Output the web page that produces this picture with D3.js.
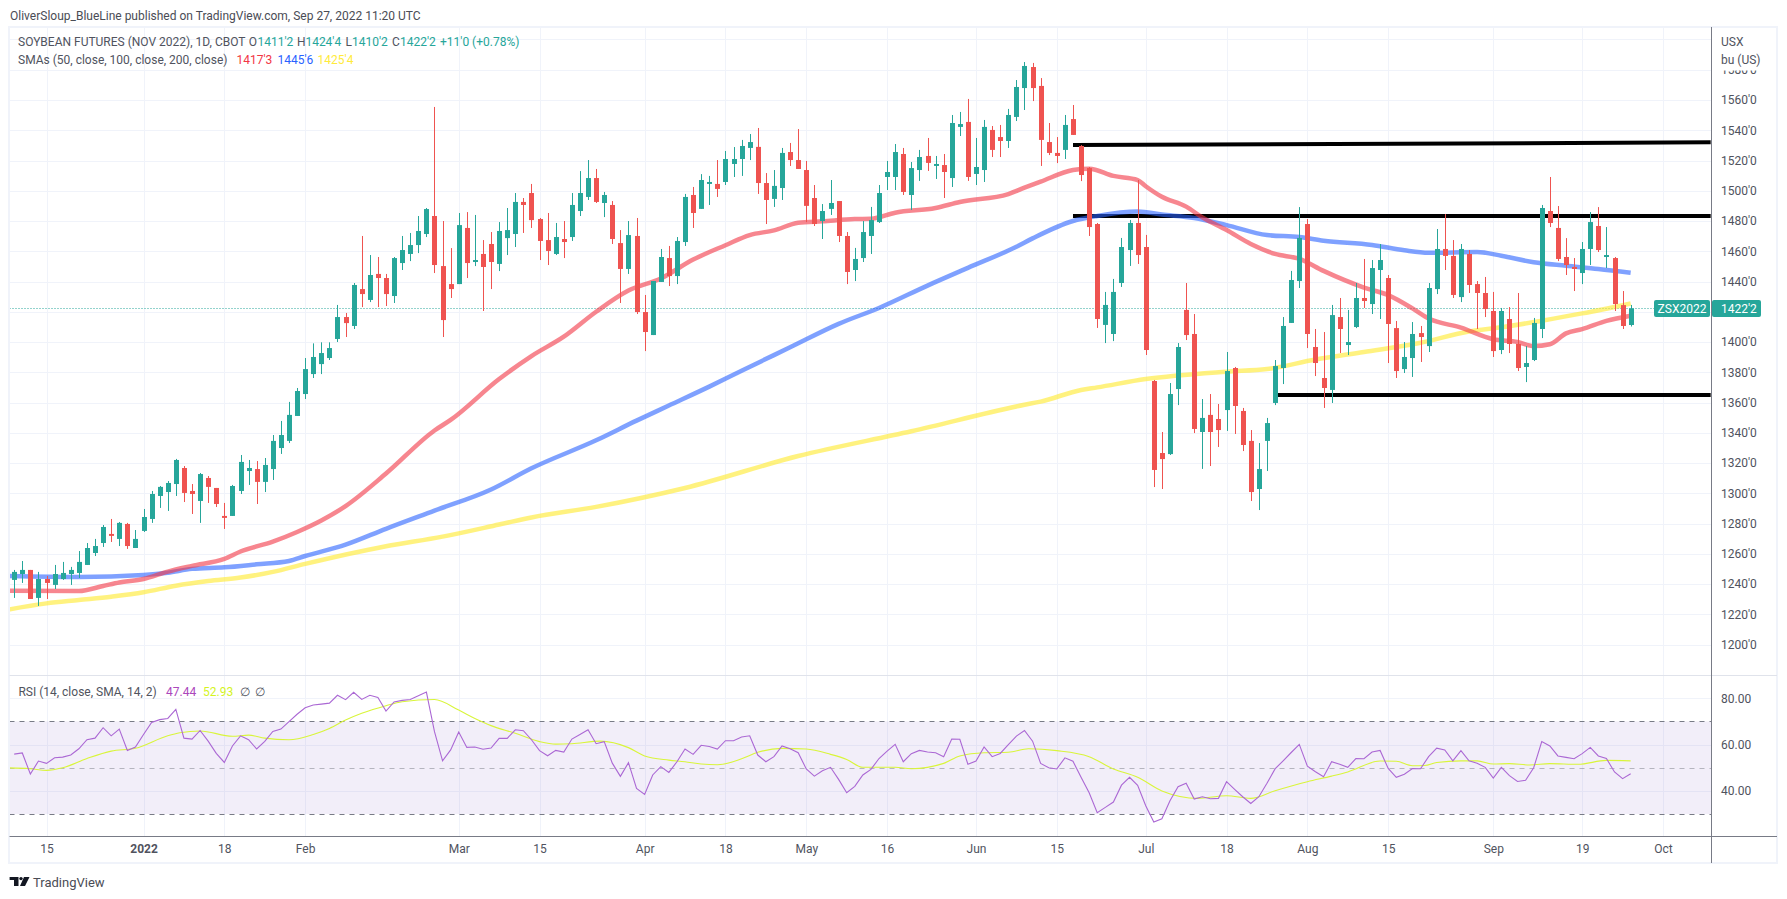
<!DOCTYPE html>
<html>
<head>
<meta charset="utf-8">
<script src="https://cdn.jsdelivr.net/npm/d3@7/dist/d3.min.js"></script>
<style>
  body { margin: 0; background: #fff; }
  svg { display: block; }
  text { font-family: Roboto, sans-serif; font-size: 12px; fill: #50535e; }
</style>
</head>
<body>
<svg id="chart" width="1787" height="899"></svg>
<script>

// daily OHLC, first bar is Dec 9 2021, last is Sep 27 2022
var opens = [
  1242.7,1246.6,1249.3,1230.8,1243.3,1239.4,1243.3,1246.6,1247.3,1252.6,
  1260.5,1267.1,1273.1,1269.8,1279.7,1263.8,1275.1,1283,1298.2,1300.8,
  1306.1,1316.7,1301.5,1294.9,1310.1,1303.5,1285,1285,1301.5,1314.7,
  1316,1307.5,1316,1329.9,1334.6,1351.1,1365.6,1378.8,1385.4,1389.4,
  1402,1416.5,1410.6,1435,1427.8,1445,1442.3,1430.4,1452.2,1458.2,
  1464.1,1471.4,1483.3,1450.2,1438.3,1438.3,1475.4,1452.9,1458.2,1464.8,
  1451.6,1468.7,1471.4,1492.6,1498.5,1481.3,1467.4,1458.2,1468.1,1469.4,
  1486.6,1495.9,1508.4,1491.9,1490.6,1465.4,1448.3,1470.1,1419.8,1404.6,
  1439.7,1455.5,1443.6,1466.1,1497.2,1488,1504.5,1504.5,1505.8,1517.7,
  1521,1528.3,1529,1505.1,1494.6,1501.8,1525.6,1520.3,1513.7,1495.2,
  1480,1488,1493.2,1470.1,1447.6,1455.5,1470.1,1479.3,1509.1,1509.1,
  1524.3,1497.2,1513.7,1523,1516.4,1517,1508.4,1542.2,1545.5,1511.1,
  1513.7,1540.2,1535.5,1532.9,1548.8,1567.9,1581.8,1569.3,1532.2,1525,
  1527,1547.4,1529.6,1515,1478,1411.3,1405.3,1439,1460.8,1478.7,
  1462.8,1374.2,1326.6,1325.9,1368.9,1421.2,1405.3,1340.5,1351.8,1349.1,
  1355,1382.8,1354.4,1334.6,1302.8,1334.6,1359.7,1382.8,1412.6,1440.3,
  1478,1396.7,1376.2,1368.3,1416.5,1398,1409.9,1429.1,1425.1,1447.6,
  1442.3,1409.2,1382.1,1389.4,1405.9,1397.3,1435,1461.5,1456.9,1429.7,
  1458.2,1438.3,1432.4,1420.5,1394.7,1415.2,1398.7,1383.5,1388.1,1408.6,
  1486.6,1475.4,1456.2,1449.6,1445.6,1461.5,1476.7,1456.2,1455.5,1424.4,
  1411.25
];
var highs = [
  1249.3,1255.2,1249.3,1248,1245.3,1252.6,1254.6,1251.3,1261.8,1267.1,
  1269.8,1279,1283,1281,1280.4,1275.7,1289.6,1301.5,1304.8,1308.1,
  1322.7,1318,1306.1,1313.4,1311.4,1303.5,1293.6,1305.5,1325.3,1322,
  1321.3,1323.3,1338.5,1347.8,1360.4,1369.6,1389.4,1399.1,1399.8,1399.8,
  1424.5,1419.2,1439,1470.1,1457.5,1456.2,1445,1456.2,1470.1,1472.1,
  1483.3,1488.6,1555.4,1480,1462.1,1485.3,1485.9,1484,1467.4,1472.7,
  1479.3,1488.6,1498.5,1495.2,1504.5,1482,1485.3,1478.7,1480,1498.5,
  1513,1520.3,1514.4,1499.2,1493.2,1474,1480,1482,1431.1,1440.3,
  1461.5,1463.5,1469.4,1497.9,1502.5,1511,1509.8,1520.3,1526.3,1528.9,
  1533.6,1537.5,1541.5,1511.7,1513.7,1528.3,1531.6,1540.8,1519.7,1503.8,
  1491.2,1507.1,1493.2,1472.7,1462.2,1480,1489.3,1503.8,1519.7,1530.9,
  1528.3,1519,1527,1534.9,1523,1524.3,1550.1,1552.1,1560.7,1534.9,
  1546.8,1542.8,1543.5,1554.1,1573.2,1585.1,1584.5,1574.5,1544.8,1535.5,
  1550.1,1556.7,1530.2,1515.7,1478.7,1433.1,1441.7,1468.8,1480.7,1507.1,
  1470.8,1374.9,1340.5,1372.9,1399.3,1439,1418.5,1362.3,1365.6,1359,
  1393.4,1383.5,1356.4,1341.8,1333.2,1349.8,1388.1,1416.5,1447,1489.2,
  1481.3,1408.6,1406.6,1424.5,1429.1,1421.2,1439,1454.9,1454.2,1464.8,
  1444.3,1413.9,1400,1413.2,1410.6,1439,1474.7,1484.6,1467.4,1464.8,
  1460.8,1440.3,1443,1433.1,1422.5,1423.1,1432.4,1397.3,1415.9,1490.6,
  1509.1,1489.9,1468.7,1455.5,1466.1,1485.9,1489.2,1476,1456.2,1433.7,
  1424.5
];
var lows = [
  1230.8,1240.7,1230.1,1225.5,1230.1,1236.7,1242.7,1239.4,1244,1252.6,
  1258.5,1264.5,1267.8,1265.1,1263.2,1263.8,1274.4,1280.4,1290.3,1288.3,
  1298.2,1294.2,1286.3,1280.4,1293.6,1290.9,1276.4,1285,1299.5,1305.5,
  1292.9,1300.8,1308.8,1326,1333.2,1351.1,1362.3,1376.2,1378.8,1388.1,
  1400,1403.3,1408.6,1423.1,1426.4,1423.1,1423.8,1425.8,1447.6,1453.5,
  1458.8,1469.4,1445.6,1403.3,1429.1,1438.3,1442.3,1450.2,1420.5,1435,
  1446.9,1457.5,1462.8,1472.1,1475.4,1454.2,1450.9,1457.5,1455.5,1466.8,
  1483.3,1493.9,1491.9,1482.6,1464.8,1425.8,1445,1418.5,1394,1404.6,
  1439.7,1437,1438.3,1463.5,1475.4,1488,1490.6,1495.9,1503.8,1509.1,
  1509.8,1520.3,1497.9,1478,1489.3,1493.9,1516.4,1514.4,1479.3,1476.7,
  1468.1,1484,1466.1,1438.3,1440.3,1452.9,1458.2,1478.7,1500.5,1500.5,
  1497.2,1487.3,1506.5,1513.1,1507.8,1495.2,1502.5,1536.2,1506.5,1503.8,
  1505.8,1522.3,1522.3,1528.3,1546.1,1553.4,1559.3,1516.4,1523.6,1518.3,
  1521,1536.9,1506.4,1470.1,1409.3,1399.3,1400.6,1436.4,1450.3,1451.6,
  1391.4,1304.1,1302.8,1325.3,1358.3,1401.3,1339.8,1316.1,1318,1330.6,
  1341.2,1339.2,1327.9,1294.9,1288.9,1314.7,1358.3,1372.2,1412.6,1435.7,
  1396,1377.5,1356.4,1359.7,1392.7,1391.4,1409.2,1422.5,1418.5,1415.2,
  1386.1,1376.2,1379.5,1376.9,1386.8,1393.4,1431.7,1447.6,1429.1,1426.4,
  1432.4,1408.6,1416.5,1390.1,1392,1392.7,1380.8,1373.5,1387.4,1402.6,
  1476,1453.5,1444.3,1433.7,1438.3,1450.9,1459.5,1448.9,1420.5,1408.6,
  1410.25
];
var closes = [
  1248,1249.3,1230.1,1243.3,1240.7,1246.6,1247.3,1249.3,1254.6,1263.8,
  1265.1,1277.7,1271.8,1280.4,1265.1,1269.8,1284.3,1299.5,1304.2,1306.8,
  1322,1300.2,1299.5,1312.7,1304.2,1292.9,1283.7,1304.8,1320.7,1316.7,
  1307.5,1318.7,1334.6,1338.5,1351.8,1367.6,1382.1,1390.1,1392.7,1396,
  1416.5,1412.5,1437.7,1431.7,1444.3,1442.3,1431.7,1455.5,1460.8,1464.1,
  1473.4,1487.9,1450.9,1414.5,1435,1477.3,1452.2,1454.2,1449.6,1452.9,
  1473.4,1474,1492.6,1490.6,1480.6,1466.8,1460.2,1469.4,1466.1,1490.6,
  1498.5,1508.4,1492.6,1497.2,1468.1,1448.3,1470.7,1419.8,1406.6,1440.3,
  1456.2,1443.6,1466.8,1495.9,1485.3,1507.1,1505.8,1501.2,1521,1521,
  1529.6,1532.2,1505.1,1493.9,1503.2,1525,1520.3,1514.4,1490,1478,
  1486.6,1491.9,1470.1,1446.3,1454.9,1472.7,1480.6,1498.5,1512.4,1525.6,
  1499.2,1515,1522.3,1518.4,1517.7,1512.4,1544.8,1544.1,1509.1,1515.7,
  1542.2,1527,1532.9,1550.1,1568.6,1582.5,1567.9,1533.6,1525,1523,
  1543.5,1536.9,1510.4,1476,1415.2,1424.5,1433.1,1462.8,1478.7,1457.5,
  1394.7,1315.4,1322.6,1365.6,1396.7,1404.6,1342.5,1349.8,1340.5,1341.8,
  1380.8,1357.7,1331.9,1300.8,1316,1346.4,1384.1,1410.6,1441,1468.8,
  1405.3,1386.1,1369.6,1417.8,1408.6,1400,1429.1,1427.1,1448.9,1454.2,
  1411.9,1380.8,1390.1,1405.3,1403.3,1435.7,1461.5,1456.9,1431.1,1461.5,
  1437.7,1432.4,1421.8,1394,1420.5,1398.7,1382.8,1386.1,1412.6,1488.6,
  1478.7,1454.9,1450.9,1448.3,1461.5,1479.3,1460.8,1457.5,1425.1,1410.6,
  1422.25
];

// RSI(14), one value a bar
var rsiValues = [
  55.9,56.4,47.3,52.9,51.9,54.3,54.6,55.5,58.2,62.1,
  62.8,67.3,63.8,66.7,57.5,59,64.4,69.6,70.8,71.3,
  75.2,62.8,62.4,66.1,61.5,56.2,52.3,59.4,63.8,62.1,
  58.1,61.4,65.7,66.7,69.9,73.1,75.9,77.1,77.5,77.9,
  81.3,79.4,82.6,79.5,81.3,80.4,74.5,78.4,79.1,79.5,
  81.1,82.7,65.6,53,57.7,65.4,58.8,59,58,58.5,
  62.7,62.7,66.4,66,62.1,57.4,55.2,57.5,56.8,62.4,
  64.4,66.4,60.4,61.3,52,46.3,52.2,41.1,38.5,46.9,
  50.5,48,52.6,58.1,55.8,59.7,59.2,58.1,61.7,61.7,
  63.3,63.8,55.5,52.6,54.8,59.4,58.2,56.5,49.5,46.4,
  48.7,50.2,45,39.2,42,46.9,49.3,54,57.2,60.1,
  52.6,56.1,57.5,56.8,56.5,54.8,62.4,62.3,51.5,52.9,
  59,54.8,56.2,60,63.7,66.1,61.5,51.9,50,49.5,
  54.3,52.8,45.9,39.2,30.6,32.9,35.2,42.5,45.9,42.4,
  33.6,26.6,28,35.8,41.8,43.3,36.5,37.5,36.6,36.8,
  44,40.7,37.5,34.6,37.5,43.3,49.5,53,56.6,60.1,
  50.7,48.3,46.1,52.6,51.5,50.2,54,53.9,56.8,57.5,
  49.7,45.9,47.2,49.7,49.6,54.8,58.5,57.7,53,57.4,
  53,52,50.2,45.6,50.2,46.6,44.1,44.6,50,61.3,
  59.4,55.1,54.5,53.9,56.1,58.8,55.1,54,48.2,45.3,
  47.44
];

// moving averages at [bar, value], bar -1 is off the left edge
var sma50 = [[-1,1235.6],[8,1235.4],[11,1238.7],[13,1241],[16,1243.3],[19,1248.2],[22,1252],[26,1256.6],[28,1261.5],[32,1268],[35,1274.4],[38,1282],[41,1291.5],[46,1313],[52,1341.5],[54,1348.5],[60,1375.5],[64,1390.7],[68,1403.5],[72,1420],[76,1434],[80,1442],[84,1454.5],[88,1464],[91,1470.7],[94,1473.8],[97,1478.8],[100,1479.8],[104,1481.3],[106,1481.5],[109,1485.5],[114,1488.6],[117,1492.6],[123,1497.8],[125,1502],[127,1506],[131,1513.7],[133,1514.6],[136,1509.8],[139,1507.1],[140,1503],[142,1496],[145,1489.5],[147,1482.4],[150,1474],[153,1464.8],[156,1458.2],[159,1455],[162,1447],[167,1436],[170,1431],[173,1422.2],[175,1415.5],[179,1409.5],[183,1401.8],[186,1400],[188,1397.3],[190,1398.5],[192,1405.7],[194,1408.5],[197,1414],[200,1417.4]];
var sma100 = [[-1,1245.3],[8,1244.6],[16,1246],[19,1247.5],[22,1250],[26,1251],[30,1253],[34,1255.2],[36,1258.5],[41,1266],[46,1276.5],[52,1288.5],[59,1302.5],[64,1316.5],[72,1335],[77,1348],[81,1358],[86,1370.5],[90,1381],[96,1396.5],[102,1412],[107,1422.5],[113,1437.3],[118,1449],[124,1463],[126,1468.5],[131,1480],[134,1483.3],[139,1486.2],[142,1484.3],[146,1482],[150,1477.3],[155,1470.7],[159,1469.4],[162,1467],[168,1464.2],[172,1460.6],[175,1459],[181,1459.5],[184,1457],[188,1452.7],[192,1450.4],[196,1448.3],[200,1445.75]];
var sma200 = [[-1,1222.8],[4,1227.2],[8,1229.4],[12,1231.6],[16,1234.5],[20,1238.9],[24,1242],[28,1244.3],[32,1248],[36,1253.3],[46,1265],[53,1271.3],[60,1279.3],[64,1284],[72,1291],[83,1303.5],[97,1324.6],[111,1341],[125,1358.5],[127,1360.6],[132,1368.3],[134,1370],[140,1375.5],[150,1380.4],[155,1382.1],[161,1388.4],[167,1393.4],[174,1399.5],[180,1407],[184,1409.7],[189,1414.1],[194,1418.9],[200,1425.5]];
var rsiMa = [[-1,50],[2,49.6],[4,48.9],[6,50],[9,54],[12,57.2],[15,58.4],[19,63.8],[20.5,65.1],[23,65.9],[27,63.6],[29,64.1],[31,62.8],[34,62.1],[37,64.4],[39,67],[41,70.6],[43,73.5],[46,76.8],[48,78.5],[52,79.5],[55,74.9],[57,71.3],[59,68.2],[62,64.9],[65,61.3],[67,60.2],[69,60.4],[72.5,61.5],[76,58.7],[78,55.1],[81,53.3],[83,52.6],[85,51.6],[87,51.3],[90,53.9],[92,56.7],[95,58.4],[98,58.1],[101,55.8],[103,53.6],[105,50.2],[109,50.2],[111,49.6],[115,51.9],[117,55.1],[120,56.5],[123,56.7],[125.5,58.2],[129,57.4],[133,54.8],[136,49.5],[139,45.9],[142,40],[146.5,36.8],[150,37.9],[153,36.8],[156,40.1],[160,44],[163,46.4],[165,48.2],[169,52.9],[171,52.8],[173,50.9],[174.5,51],[176,52.3],[179,53],[181,53],[183,51.6],[185,51.8],[187.5,51.2],[190,51.8],[193.5,51.5],[197,53.2],[200,53]];

// hand drawn lines: first bar, last bar, first price, last price
var lineBarFrom = [131, 131, 156];
var lineBarTo = [209.9, 209.9, 209.9];
var linePriceFrom = [1530.2, 1483.3, 1365];
var linePriceTo = [1532, 1483.3, 1365];

var priceTicks = d3.range(1200, 1581, 20);
var gridPrices = d3.range(1200, 1601, 20);
var rsiTicks = [40, 60, 80];
var rsiBands = [70, 50, 30];
var tickBars = [4, 16, 26, 36, 55, 65, 78, 88, 98, 108, 119, 129, 140, 150, 160, 170, 183, 194, 204];
var tickLabels = ["15", "2022", "18", "Feb", "Mar", "15", "Apr", "18", "May", "16", "Jun", "15", "Jul", "18", "Aug", "15", "Sep", "19", "Oct"];

var lastPrice = 1422.25;

var green = "#26a69a", red = "#ef5350";
var paneLeft = 9.5, axisX = 1711, paneRight = 1777, paneTop = 27, sep = 675, paneBottom = 836, frameBottom = 863;

var svg = d3.select("#chart");

var x = d3.scaleLinear().domain([0, 204]).range([14.2, 1663]);
var y = d3.scaleLinear().domain([1560, 1200]).range([100, 644.5]);
var yRsi = d3.scaleLinear().domain([80, 30]).range([698.3, 814.1]);

var defs = svg.append("defs");
defs.append("clipPath").attr("id", "mainClip").append("rect")
  .attr("x", paneLeft).attr("y", paneTop).attr("width", axisX - paneLeft).attr("height", sep - paneTop);
defs.append("clipPath").attr("id", "rsiClip").append("rect")
  .attr("x", paneLeft).attr("y", sep).attr("width", axisX - paneLeft).attr("height", paneBottom - sep);
// the 1580 label is cut by the unit text in the corner
defs.append("clipPath").attr("id", "labelClip").append("rect")
  .attr("x", axisX).attr("y", 70.5).attr("width", paneRight - axisX).attr("height", sep - 70.5);

// grid
var grid = svg.append("g");
grid.selectAll(".vgrid").data(tickBars).enter().append("line")
  .attr("x1", function(d) { return Math.round(x(d)) + 0.5; })
  .attr("x2", function(d) { return Math.round(x(d)) + 0.5; })
  .attr("y1", paneTop).attr("y2", paneBottom)
  .attr("stroke", "#f0f3fa");
grid.selectAll(".hgrid").data(gridPrices).enter().append("line")
  .attr("x1", paneLeft).attr("x2", axisX)
  .attr("y1", function(d) { return Math.round(y(d)) + 0.5; })
  .attr("y2", function(d) { return Math.round(y(d)) + 0.5; })
  .attr("stroke", "#f0f3fa");
grid.selectAll(".rgrid").data(rsiTicks).enter().append("line")
  .attr("x1", paneLeft).attr("x2", axisX)
  .attr("y1", function(d) { return Math.round(yRsi(d)) + 0.5; })
  .attr("y2", function(d) { return Math.round(yRsi(d)) + 0.5; })
  .attr("stroke", "#f0f3fa");

// main pane
var main = svg.append("g").attr("clip-path", "url(#mainClip)");

main.append("line")
  .attr("x1", paneLeft).attr("x2", 1654)
  .attr("y1", Math.round(y(lastPrice)) + 0.5).attr("y2", Math.round(y(lastPrice)) + 0.5)
  .attr("stroke", green).attr("stroke-dasharray", "1 2");

main.selectAll(".trend").data(lineBarFrom).enter().append("line")
  .attr("x1", function(d) { return x(d); })
  .attr("x2", function(d, i) { return x(lineBarTo[i]); })
  .attr("y1", function(d, i) { return y(linePriceFrom[i]); })
  .attr("y2", function(d, i) { return y(linePriceTo[i]); })
  .attr("stroke", "#000").attr("stroke-width", 4);

var smaLine = d3.line()
  .x(function(d) { return x(d[0]); })
  .y(function(d) { return y(d[1]); })
  .curve(d3.curveMonotoneX);

[[sma200, "rgba(255,235,59,.65)"], [sma100, "rgba(41,98,255,.6)"], [sma50, "rgba(242,54,69,.6)"]].forEach(function(s) {
  main.append("path")
    .attr("d", smaLine(s[0]))
    .attr("fill", "none")
    .attr("stroke", s[1])
    .attr("stroke-width", 4.5)
    .attr("stroke-linejoin", "round");
});

var bars = main.selectAll(".bar").data(closes).enter().append("g");
function barColor(d, i) { return d >= opens[i] ? green : red; }
bars.append("rect")
  .attr("x", function(d, i) { return Math.round(x(i)); })
  .attr("width", 1)
  .attr("y", function(d, i) { return y(highs[i]); })
  .attr("height", function(d, i) { return y(lows[i]) - y(highs[i]); })
  .attr("fill", barColor);
bars.append("rect")
  .attr("x", function(d, i) { return Math.round(x(i)) - 2; })
  .attr("width", 5)
  .attr("y", function(d, i) { return y(Math.max(d, opens[i])); })
  .attr("height", function(d, i) { return Math.max(1.5, Math.abs(y(d) - y(opens[i]))); })
  .attr("fill", barColor);

// rsi pane
var rsi = svg.append("g").attr("clip-path", "url(#rsiClip)");
rsi.append("rect")
  .attr("x", paneLeft).attr("width", axisX - paneLeft)
  .attr("y", yRsi(70)).attr("height", yRsi(30) - yRsi(70))
  .attr("fill", "rgba(126,87,194,.1)");
rsi.selectAll(".band").data(rsiBands).enter().append("line")
  .attr("x1", paneLeft).attr("x2", axisX)
  .attr("y1", function(d) { return Math.round(yRsi(d)) + 0.5; })
  .attr("y2", function(d) { return Math.round(yRsi(d)) + 0.5; })
  .attr("stroke", "#787b86")
  .attr("stroke-opacity", function(d) { return d == 50 ? 0.5 : 1; })
  .attr("stroke-dasharray", "5 5");

var rsiLine = d3.line()
  .x(function(d, i) { return x(i); })
  .y(function(d) { return yRsi(d); });
var maLine = d3.line()
  .x(function(d) { return x(d[0]); })
  .y(function(d) { return yRsi(d[1]); })
  .curve(d3.curveMonotoneX);

rsi.append("path").attr("d", maLine(rsiMa))
  .attr("fill", "none").attr("stroke", "#d9f53a").attr("stroke-width", 1.1);
rsi.append("path").attr("d", rsiLine(rsiValues))
  .attr("fill", "none").attr("stroke", "#ab68d4").attr("stroke-width", 1.1);

// frame and separators
var frame = svg.append("g").attr("fill", "none");
frame.append("rect")
  .attr("x", 9).attr("y", 27).attr("width", paneRight - 9).attr("height", frameBottom - 27)
  .attr("stroke", "#f0f3fa").attr("stroke-width", 2);
frame.append("line").attr("x1", paneLeft).attr("x2", paneRight).attr("y1", sep + 0.5).attr("y2", sep + 0.5)
  .attr("stroke", "#e0e3eb");
frame.append("line").attr("x1", paneLeft).attr("x2", paneRight).attr("y1", paneBottom + 0.5).attr("y2", paneBottom + 0.5)
  .attr("stroke", "#787b86");
frame.append("line").attr("x1", axisX + 0.5).attr("x2", axisX + 0.5).attr("y1", paneTop).attr("y2", frameBottom)
  .attr("stroke", "#787b86");

// axes
var priceAxis = d3.axisRight(y)
  .tickValues(priceTicks)
  .tickSize(0)
  .tickPadding(10)
  .tickFormat(function(d) { return d + "'0"; });
svg.append("g").attr("clip-path", "url(#labelClip)")
  .append("g").attr("transform", "translate(" + axisX + ",0)")
  .call(priceAxis)
  .call(function(g) { g.select(".domain").remove(); });

var rsiAxis = d3.axisRight(yRsi)
  .tickValues(rsiTicks)
  .tickSize(0)
  .tickPadding(10)
  .tickFormat(d3.format(".2f"));
svg.append("g").attr("transform", "translate(" + axisX + ",0)")
  .call(rsiAxis)
  .call(function(g) { g.select(".domain").remove(); });

var timeAxis = d3.axisBottom(x)
  .tickValues(tickBars)
  .tickSize(0)
  .tickPadding(8)
  .tickFormat(function(d, i) { return tickLabels[i]; });
svg.append("g").attr("transform", "translate(0," + paneBottom + ")")
  .call(timeAxis)
  .call(function(g) {
    g.select(".domain").remove();
    g.selectAll("text").style("font-weight", function(d, i) { return tickLabels[i] == "2022" ? "bold" : null; });
  });

// last price tags
var yLast = y(lastPrice);
svg.append("rect").attr("x", 1654).attr("y", 300).attr("width", 56).attr("height", 17).attr("rx", 2).attr("fill", green);
svg.append("rect").attr("x", 1712).attr("y", 300).attr("width", 49).attr("height", 17).attr("rx", 2).attr("fill", green);
svg.append("text").attr("x", 1682).attr("y", yLast + 4.5).attr("text-anchor", "middle").style("fill", "#fff").text("ZSX2022");
svg.append("text").attr("x", 1721).attr("y", yLast + 4.5).style("fill", "#fff").text("1422'2");

// texts
function label(px, py, str, color) {
  var t = svg.append("text").attr("x", px).attr("y", py).text(str);
  if (color) t.style("fill", color);
  return t;
}

label(10, 19.5, "OliverSloup_BlueLine published on TradingView.com, Sep 27, 2022 11:20 UTC", "#4a4c55");

var up = "#26a69a";
label(18, 46, "SOYBEAN FUTURES (NOV 2022), 1D, CBOT");
label(248.8, 46, "O"); label(257.5, 46, "1411'2", up);
label(297, 46, "H"); label(305.4, 46, "1424'4", up);
label(345.6, 46, "L"); label(352, 46, "1410'2", up);
label(392, 46, "C"); label(400, 46, "1422'2", up);
label(440, 46, "+11'0 (+0.78%)", up);

label(18, 63.5, "SMAs (50, close, 100, close, 200, close)");
label(236.5, 63.5, "1417'3", "#f23645");
label(277.5, 63.5, "1445'6", "#2962ff");
label(317.6, 63.5, "1425'4", "#ffeb3b");

label(18.4, 695.5, "RSI (14, close, SMA, 14, 2)");
label(166, 695.5, "47.44", "#ab47bc");
label(203, 695.5, "52.93", "#d4f31f");
label(240, 695.5, "\u2205"); label(255, 695.5, "\u2205");

label(1721, 45.5, "USX");
label(1721, 63.5, "bu (US)");

// logo and name at the bottom
svg.append("path")
  .attr("d", "M9.6 877H18.5V886H14V880H9.6Z M24 877H29.5L25 886H20Z")
  .attr("fill", "#131722");
svg.append("circle").attr("cx", 21).attr("cy", 878.6).attr("r", 1.7).attr("fill", "#131722");
label(33, 887, "TradingView", "#4a4c55").style("font-size", "13px");

</script>
</body>
</html>
